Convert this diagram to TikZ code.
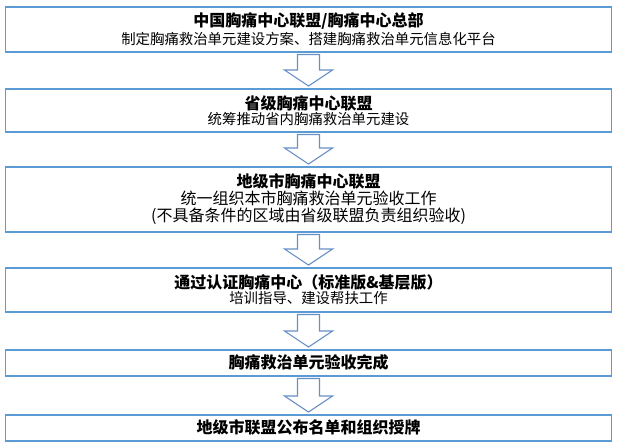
\documentclass[tikz,border=0pt]{standalone}
\usepackage{fontspec}
\setmainfont{Noto Sans CJK SC}
\usetikzlibrary{calc}
\definecolor{boxblue}{RGB}{91,155,213}
\definecolor{arrblue}{RGB}{104,144,198}
\newcommand\ttlfont{\fontsize{16}{19}\selectfont\bfseries}
\newcommand\subfont{\fontsize{14.4}{17}\selectfont}
\newcommand\midfont{\fontsize{16}{19}\selectfont}
\newcommand\blockarr[2]{%
  \draw[arrstyle] let \p1=(#1.south), \p2=(#2.north) in
    (\x1-11pt,\y1-2pt) -- (\x1+11pt,\y1-2pt) -- (\x1+11pt,\y2+18pt)
    -- (\x1+24pt,\y2+18pt) -- (\x1,\y2+2pt) -- (\x1-24pt,\y2+18pt)
    -- (\x1-11pt,\y2+18pt) -- cycle;}
\begin{document}
\begin{tikzpicture}[x=1pt,y=-1pt,
  box/.style={draw=boxblue, line width=1.5pt, minimum width=606pt,
    inner sep=0pt, align=center, anchor=north, fill=white},
  arrstyle/.style={draw=arrblue, line width=1.1pt, fill=white, line join=miter}]
\useasboundingbox[fill=white] (0,0) rectangle (618,445);
\node[box, minimum height=45pt] (b1) at (308.5,6)
  {\ttlfont 中国胸痛中心联盟/胸痛中心总部\\[2pt]
   \subfont 制定胸痛救治单元建设方案、搭建胸痛救治单元信息化平台};
\node[box, minimum height=43pt] (b2) at (308.5,88)
  {\ttlfont 省级胸痛中心联盟\\[0pt]
   \subfont 统筹推动省内胸痛救治单元建设};
\node[box, minimum height=65pt] (b3) at (308.5,166)
  {\ttlfont 地级市胸痛中心联盟\\[0.5pt]
   \midfont 统一组织本市胸痛救治单元验收工作\\[1.5pt]
   \midfont (不具备条件的区域由省级联盟负责组织验收)};
\node[box, minimum height=44pt] (b4) at (308.5,267)
  {\ttlfont 通过认证胸痛中心（标准版\&基层版）\\[0.5pt]
   \subfont 培训指导、建设帮扶工作};
\node[box, minimum height=26pt] (b5) at (308.5,349)
  {\ttlfont 胸痛救治单元验收完成};
\node[box, minimum height=26pt] (b6) at (308.5,414)
  {\ttlfont 地级市联盟公布名单和组织授牌};
\blockarr{b1}{b2}
\blockarr{b2}{b3}
\blockarr{b3}{b4}
\blockarr{b4}{b5}
\blockarr{b5}{b6}
\end{tikzpicture}
\end{document}
